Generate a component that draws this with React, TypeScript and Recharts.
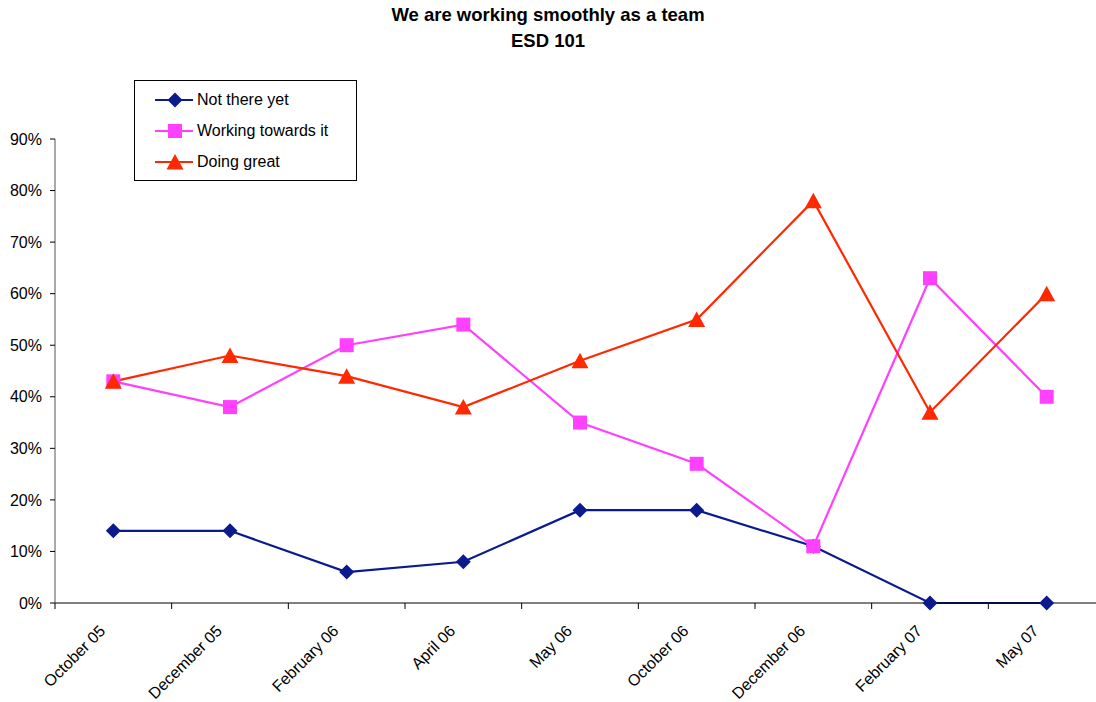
import React from 'react';
import { LineChart, Line, XAxis, YAxis, Legend } from 'recharts';

const categories = [
  'October 05',
  'December 05',
  'February 06',
  'April 06',
  'May 06',
  'October 06',
  'December 06',
  'February 07',
  'May 07',
];
const notThereYet = [14, 14, 6, 8, 18, 18, 11, 0, 0];
const workingTowardsIt = [43, 38, 50, 54, 35, 27, 11, 63, 40];
const doingGreat = [43, 48, 44, 38, 47, 55, 78, 37, 60];
const yTicks = [0, 10, 20, 30, 40, 50, 60, 70, 80, 90];

const seriesInfo = [
  { key: 'notThere', name: 'Not there yet', color: '#0b1a8c', width: 2.2, shape: 'diamond' },
  { key: 'working', name: 'Working towards it', color: '#ff40ff', width: 2.2, shape: 'square' },
  { key: 'great', name: 'Doing great', color: '#ff2800', width: 2.2, shape: 'triangle' },
];

const data = categories.map((month, i) => ({
  month,
  notThere: notThereYet[i],
  working: workingTowardsIt[i],
  great: doingGreat[i],
}));

const CHART_W = 1120;
const CHART_H = 702;
const LEFT = 55;
const RIGHT = 15;
const TOP = 139;
const HALF_BAND = (CHART_W - LEFT - RIGHT) / categories.length / 2;
const FONT = 'Arial, "Liberation Sans", sans-serif';

function Marker({ shape, cx, cy, color }: { shape: string; cx: number; cy: number; color: string }) {
  if (shape === 'diamond') {
    return (
      <polygon
        points={`${cx},${cy - 7.5} ${cx + 7.5},${cy} ${cx},${cy + 7.5} ${cx - 7.5},${cy}`}
        fill={color}
      />
    );
  }
  if (shape === 'square') {
    return <rect x={cx - 7} y={cy - 7} width={14} height={14} fill={color} />;
  }
  return (
    <polygon
      points={`${cx},${cy - 8} ${cx + 8.5},${cy + 7.5} ${cx - 8.5},${cy + 7.5}`}
      fill={color}
    />
  );
}

// label at the category centre, tick mark on the boundary to its left (Excel style)
function XTick(props: any) {
  const { x, y, payload } = props;
  const bx = x - HALF_BAND;
  const tx = x - 7;
  const ty = y + 21;
  return (
    <g>
      <line x1={bx} y1={y - 8} x2={bx} y2={y - 2} stroke="#000" strokeWidth={1} />
      <text
        x={tx}
        y={ty}
        textAnchor="end"
        transform={`rotate(-45, ${tx}, ${ty})`}
        fontSize={16}
        fontFamily={FONT}
        fill="#000"
      >
        {payload.value}
      </text>
    </g>
  );
}

function LegendBox() {
  return (
    <div
      style={{
        width: 221,
        height: 96,
        border: '1px solid #000',
        background: '#fff',
        fontFamily: FONT,
        fontSize: 16,
        paddingTop: 3,
        boxSizing: 'content-box',
      }}
    >
      {seriesInfo.map((s) => (
        <div key={s.key} style={{ display: 'flex', alignItems: 'center', height: 31 }}>
          <svg width={62} height={20} style={{ display: 'block' }}>
            <line x1={20} y1={10} x2={58} y2={10} stroke={s.color} strokeWidth={s.width} />
            <Marker shape={s.shape} cx={40} cy={10} color={s.color} />
          </svg>
          <span style={{ color: '#000' }}>{s.name}</span>
        </div>
      ))}
    </div>
  );
}

export default function App() {
  return (
    <div
      style={{
        position: 'fixed',
        left: 0,
        top: 0,
        width: 1096,
        height: 702,
        overflow: 'hidden',
        background: '#fff',
      }}
    >
      <div
        style={{
          position: 'absolute',
          left: 0,
          top: 2,
          width: 1096,
          textAlign: 'center',
          fontFamily: FONT,
          fontWeight: 'bold',
          fontSize: 18.5,
          lineHeight: '26px',
          color: '#000',
          zIndex: 2,
        }}
      >
        <div>We are working smoothly as a team</div>
        <div>ESD 101</div>
      </div>
      <LineChart
        width={CHART_W}
        height={CHART_H}
        data={data}
        margin={{ top: TOP, right: RIGHT, bottom: 0, left: 0 }}
      >
        <XAxis
          dataKey="month"
          scale="band"
          interval={0}
          height={CHART_H - TOP - 464}
          axisLine={{ stroke: '#000', strokeWidth: 1 }}
          tickLine={false}
          tick={<XTick />}
        />
        <YAxis
          width={LEFT}
          domain={[0, 90]}
          ticks={yTicks}
          interval={0}
          tickFormatter={(v: number) => `${v}%`}
          axisLine={{ stroke: '#555', strokeWidth: 1 }}
          tickLine={{ stroke: '#000' }}
          tickSize={5}
          tickMargin={8}
          tick={{ fontSize: 16, fontFamily: FONT, fill: '#000' }}
        />
        <Legend
          layout="vertical"
          align="center"
          verticalAlign="middle"
          content={() => <LegendBox />}
          wrapperStyle={{ left: 134, top: 80, width: 223, height: 99 }}
        />
        {seriesInfo.map((s) => (
          <Line
            key={s.key}
            dataKey={s.key}
            name={s.name}
            stroke={s.color}
            strokeWidth={s.width}
            isAnimationActive={false}
            dot={(p: any) => (
              <Marker key={`${s.key}-${p.index}`} shape={s.shape} cx={p.cx} cy={p.cy} color={s.color} />
            )}
            activeDot={false}
          />
        ))}
      </LineChart>
    </div>
  );
}
